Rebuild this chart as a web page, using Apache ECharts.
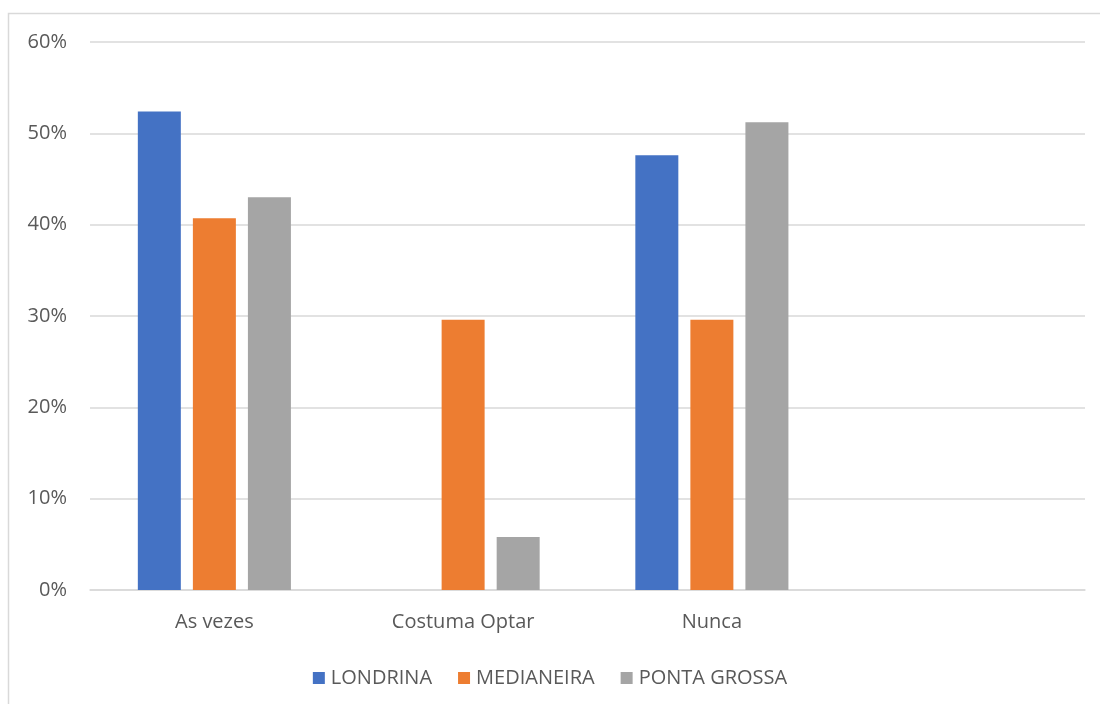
<!DOCTYPE html>
<html>
<head>
<meta charset="utf-8">
<script src="https://cdn.jsdelivr.net/npm/echarts@6/dist/echarts.min.js"></script>
<style>
  html, body { margin: 0; padding: 0; background: #fff; }
  #chart { width: 1100px; height: 704px; }
</style>
</head>
<body>
<div id="chart"></div>
<script>
// Response categories (the last slot is an empty category on the axis)
const categories = ['As vezes', 'Costuma Optar', 'Nunca', ''];
const yTicks = [0, 10, 20, 30, 40, 50, 60];

// Share of answers per city, in percent
const londrina = [52.4, 0, 47.6, null];
const medianeira = [40.7, 29.6, 29.6, null];
const pontaGrossa = [43.0, 5.8, 51.2, null];

const seriesNames = ['LONDRINA', 'MEDIANEIRA', 'PONTA GROSSA'];
const seriesColors = ['#4472c4', '#ed7d31', '#a5a5a5'];
const seriesData = [londrina, medianeira, pontaGrossa];

const FONT = '"Open Sans", "Noto Sans", sans-serif';
const chart = echarts.init(document.getElementById('chart'));

chart.setOption({
  animation: false,
  backgroundColor: '#ffffff',
  graphic: [{
    type: 'rect',
    shape: { x: 8.5, y: 13.5, width: 1120, height: 720 },
    style: { fill: 'none', stroke: '#d9d9d9', lineWidth: 1.5 },
    silent: true
  }],
  grid: { left: 90, right: 15, top: 42, bottom: 114, containLabel: false },
  legend: {
    top: 663,
    left: 'center',
    itemWidth: 12,
    itemHeight: 12,
    itemGap: 26,
    icon: 'rect',
    textStyle: { color: '#595959', fontSize: 20, fontFamily: FONT, padding: [0, 0, 0, 1] },
    data: seriesNames
  },
  xAxis: {
    type: 'category',
    data: categories,
    axisLine: { show: true, lineStyle: { color: '#d9d9d9', width: 1.5 } },
    axisTick: { show: false },
    axisLabel: { color: '#595959', fontSize: 20, fontFamily: FONT, margin: 22 },
    splitLine: { show: false }
  },
  yAxis: {
    type: 'value',
    min: 0,
    max: 60,
    interval: 10,
    axisLine: { show: false },
    axisTick: { show: false },
    axisLabel: {
      color: '#595959', fontSize: 20, fontFamily: FONT, margin: 23,
      formatter: v => (yTicks.includes(v) ? v + '%' : '')
    },
    splitLine: { lineStyle: { color: '#d9d9d9', width: 1.5 } }
  },
  series: seriesData.map((d, i) => ({
    name: seriesNames[i],
    type: 'bar',
    data: d,
    barWidth: 43,
    barGap: '28%',
    itemStyle: { color: seriesColors[i] }
  }))
});
</script>
</body>
</html>
